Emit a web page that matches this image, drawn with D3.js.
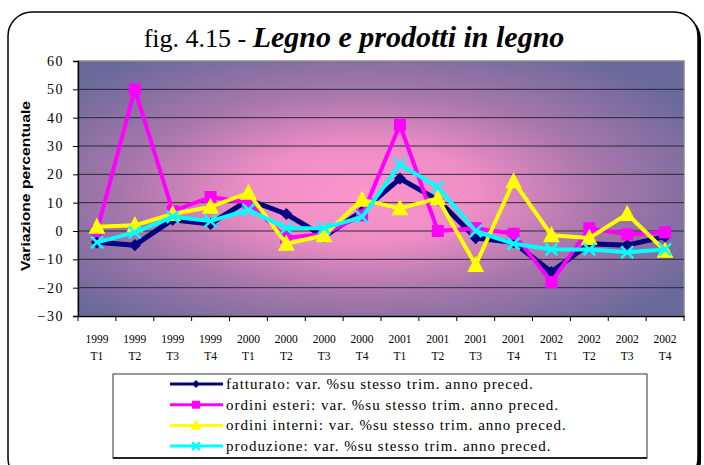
<!DOCTYPE html>
<html>
<head>
<meta charset="utf-8">
<script src="https://cdn.jsdelivr.net/npm/d3@7"></script>
<style>
  body { margin: 0; background: #fff; }
  svg text { font-family: "Liberation Serif", "Times New Roman", serif; }
</style>
</head>
<body>
<svg id="chart" width="704" height="465"></svg>
<script>
// data
var years = ["1999","1999","1999","1999","2000","2000","2000","2000","2001","2001","2001","2001","2002","2002","2002","2002"];
var quarters = ["T1","T2","T3","T4","T1","T2","T3","T4","T1","T2","T3","T4","T1","T2","T3","T4"];
var fatturato = [-4, -5, 4, 2.5, 11, 6, -2, 7, 18.5, 11, -2.5, -4, -14.5, -4.5, -5, -2];
var ordiniEsteri = [0, 50, 7, 12, 10, -2.5, -1, 5.5, 37.5, 0, 1, -1, -18, 1, -1.2, -0.5];
var ordiniInterni = [1.5, 2, 6, 8.5, 13.5, -4.5, -1.5, 11, 8, 11.5, -12, 17.5, -1.5, -2.5, 6, -7];
var produzione = [-4, -0.5, 5, 3.5, 7.5, 1, 1, 5, 23.5, 15.5, 0, -4.5, -6.5, -6.5, -7.5, -6.5];
var yTicks = [-30, -20, -10, 0, 10, 20, 30, 40, 50, 60];
var legendLabels = [
  "fatturato: var. %su stesso trim. anno preced.",
  "ordini esteri: var. %su stesso trim. anno preced.",
  "ordini interni: var. %su stesso trim. anno preced.",
  "produzione: var. %su stesso trim. anno preced."
];

var series = [
  {name: legendLabels[0], values: fatturato, color: "#000080", marker: "diamond", lw: 5},
  {name: legendLabels[1], values: ordiniEsteri, color: "#ff00ff", marker: "square", lw: 4},
  {name: legendLabels[2], values: ordiniInterni, color: "#ffff00", marker: "triangle", lw: 4},
  {name: legendLabels[3], values: produzione, color: "#00ffff", marker: "cross", lw: 4}
];

var svg = d3.select("#chart");
var cats = d3.range(years.length);

var plotL = 78, plotR = 684, plotT = 61, plotB = 316;
var x = d3.scaleBand().domain(cats).range([plotL, plotR]);
var y = d3.scaleLinear().domain([-30, 60]).range([plotB, plotT]);
var serif = "'Liberation Serif', 'Times New Roman', serif";

// frame with shadow
svg.append("rect").attr("x", 11).attr("y", 15).attr("width", 690).attr("height", 470)
  .attr("rx", 24).attr("fill", "#000");
svg.append("rect").attr("x", 8).attr("y", 12).attr("width", 690).attr("height", 470)
  .attr("rx", 24).attr("fill", "#fff").attr("stroke", "#000").attr("stroke-width", 1.5);

// plot background gradient
var defs = svg.append("defs");
var grad = defs.append("radialGradient").attr("id", "bg")
  .attr("cx", 0.47).attr("cy", 0.52).attr("r", 0.64);
grad.append("stop").attr("offset", 0).attr("stop-color", "#fc96cd");
grad.append("stop").attr("offset", 0.3).attr("stop-color", "#ee8dc5");
grad.append("stop").attr("offset", 0.62).attr("stop-color", "#a777ab");
grad.append("stop").attr("offset", 1).attr("stop-color", "#6a699b");

svg.append("rect").attr("x", plotL).attr("y", plotT)
  .attr("width", plotR - plotL).attr("height", plotB - plotT)
  .attr("fill", "url(#bg)").attr("stroke", "#8a8a8a").attr("stroke-width", 1.5);

// gridlines
svg.append("g").selectAll("line")
  .data(yTicks.filter(function(d) { return d > -30 && d < 60; }))
  .enter().append("line")
  .attr("x1", plotL).attr("x2", plotR)
  .attr("y1", function(d) { return y(d); })
  .attr("y2", function(d) { return y(d); })
  .attr("stroke", "#2a2a3a").attr("stroke-width", 1);

// y axis
var yAxis = svg.append("g").attr("transform", "translate(" + plotL + ",0)")
  .call(d3.axisLeft(y).tickValues(yTicks).tickSize(5).tickPadding(9));
yAxis.select(".domain").attr("stroke", "#000").attr("stroke-width", 1.3);
yAxis.selectAll("line").attr("stroke", "#000");
yAxis.selectAll("text").attr("font-size", 14).attr("fill", "#000")
  .attr("letter-spacing", 1.5)
  .style("font-family", serif);

// x axis
var xAxis = svg.append("g").attr("transform", "translate(0," + plotB + ")")
  .call(d3.axisBottom(x).tickSize(0).tickFormat(""));
xAxis.select(".domain").attr("stroke", "#000").attr("stroke-width", 1.3);
svg.append("g").selectAll("line")
  .data(d3.range(years.length + 1))
  .enter().append("line")
  .attr("x1", function(d) { return plotL + d * x.step(); })
  .attr("x2", function(d) { return plotL + d * x.step(); })
  .attr("y1", plotB).attr("y2", plotB + 5)
  .attr("stroke", "#000");

var xl = svg.append("g").selectAll("text")
  .data(cats).enter().append("text")
  .attr("text-anchor", "middle")
  .attr("font-size", 11.5)
  .style("font-family", serif)
  .attr("fill", "#000");
xl.append("tspan")
  .attr("x", function(d) { return x(d) + x.bandwidth() / 2; })
  .attr("y", 343)
  .text(function(d) { return years[d]; });
xl.append("tspan")
  .attr("x", function(d) { return x(d) + x.bandwidth() / 2; })
  .attr("y", 360)
  .text(function(d) { return quarters[d]; });

// y axis title
svg.append("text")
  .attr("transform", "translate(30,186) rotate(-90)")
  .attr("text-anchor", "middle")
  .attr("font-size", 13)
  .attr("font-weight", "bold")
  .attr("textLength", 170)
  .attr("lengthAdjust", "spacingAndGlyphs")
  .style("font-family", "'Liberation Sans', Arial, sans-serif")
  .attr("fill", "#000")
  .text("Variazione percentuale");

// title
var title = svg.append("text")
  .attr("x", 354).attr("y", 47)
  .attr("text-anchor", "middle")
  .style("font-family", serif)
  .attr("fill", "#000");
title.append("tspan").attr("font-size", 26).text("fig. 4.15 - ");
title.append("tspan").attr("font-size", 30).attr("font-weight", "bold")
  .attr("font-style", "italic").text("Legno e prodotti in legno");

// markers
function drawMarker(g, type, color, cx, cy, s) {
  if (type == "diamond") {
    g.append("path").attr("d", d3.symbol().type(d3.symbolDiamond2).size(s * s * 0.65)())
      .attr("transform", "translate(" + cx + "," + cy + ")").attr("fill", color);
  } else if (type == "square") {
    g.append("rect").attr("x", cx - s / 2).attr("y", cy - s / 2)
      .attr("width", s).attr("height", s).attr("fill", color);
  } else if (type == "triangle") {
    var h = s * 1.1;
    g.append("path")
      .attr("d", "M" + cx + "," + (cy - h * 0.6) + "L" + (cx + s * 0.6) + "," + (cy + h * 0.45) +
        "L" + (cx - s * 0.6) + "," + (cy + h * 0.45) + "Z")
      .attr("fill", color);
  } else {
    var r = s / 2;
    g.append("path")
      .attr("d", "M" + (cx - r) + "," + (cy - r) + "L" + (cx + r) + "," + (cy + r) +
        "M" + (cx - r) + "," + (cy + r) + "L" + (cx + r) + "," + (cy - r))
      .attr("stroke", color).attr("stroke-width", 2.5);
  }
}

var line = d3.line()
  .x(function(d, i) { return x(i) + x.bandwidth() / 2; })
  .y(function(d) { return y(d); });

series.forEach(function(s) {
  var g = svg.append("g");
  g.append("path").datum(s.values)
    .attr("d", line)
    .attr("fill", "none")
    .attr("stroke", s.color)
    .attr("stroke-width", s.lw)
    .attr("stroke-linejoin", "round");
  s.values.forEach(function(v, i) {
    drawMarker(g, s.marker, s.color, x(i) + x.bandwidth() / 2, y(v),
      s.marker == "triangle" ? 14 : 12);
  });
});

// legend
var lg = svg.append("g");
lg.append("rect").attr("x", 113).attr("y", 374).attr("width", 534).attr("height", 84)
  .attr("fill", "#fff").attr("stroke", "#555").attr("stroke-width", 1.2);
lg.append("line").attr("x1", 113).attr("x2", 647).attr("y1", 458).attr("y2", 458)
  .attr("stroke", "#000").attr("stroke-width", 1.5);

series.forEach(function(s, i) {
  var ly = 384 + i * 20.7;
  lg.append("line").attr("x1", 170).attr("x2", 223).attr("y1", ly).attr("y2", ly)
    .attr("stroke", s.color).attr("stroke-width", 3);
  drawMarker(lg, s.marker, s.color, 196, ly, s.marker == "triangle" ? 9 : 8);
  lg.append("text").attr("x", 226).attr("y", ly + 5)
    .attr("font-size", 15).attr("letter-spacing", 1)
    .style("font-family", serif)
    .attr("fill", "#000")
    .text(s.name);
});
</script>
</body>
</html>
